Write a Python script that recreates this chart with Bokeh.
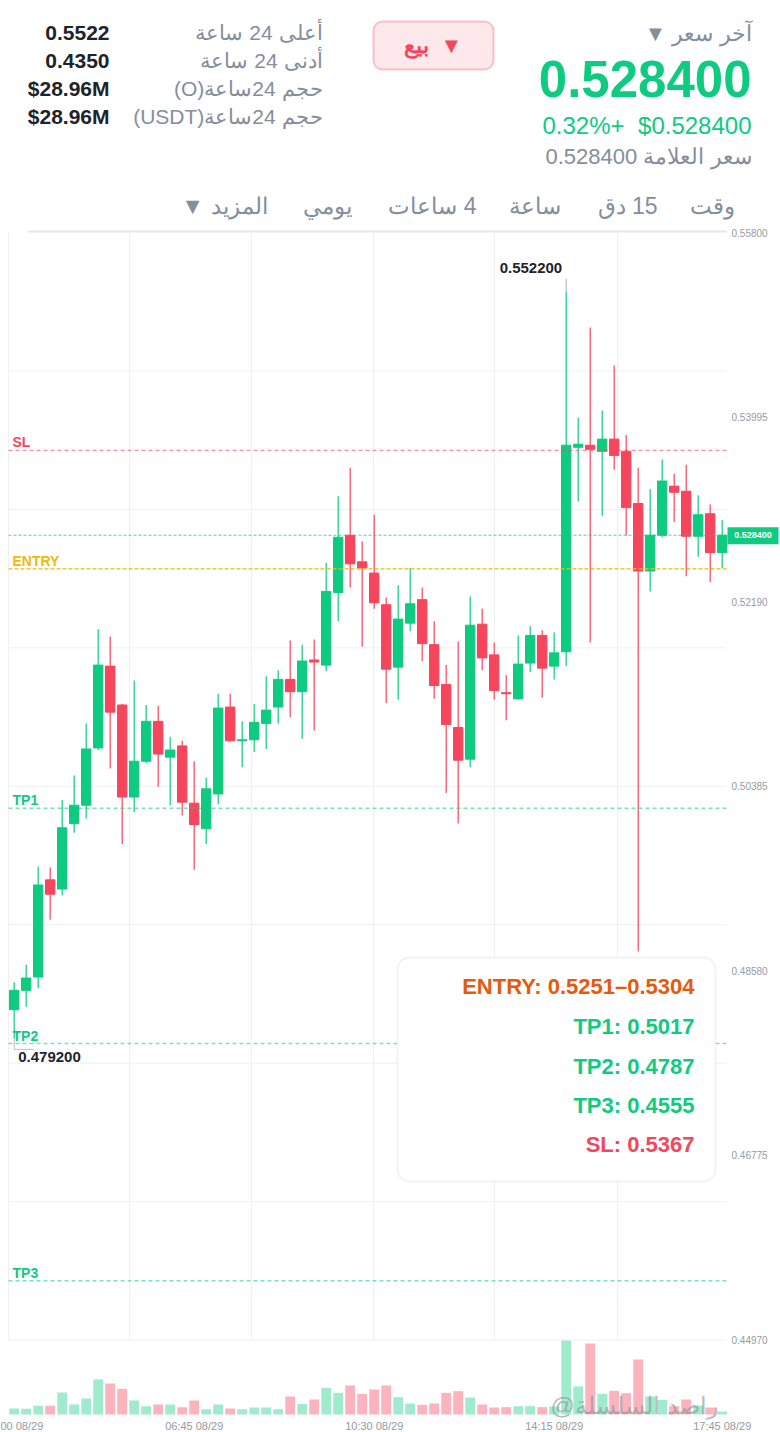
from bokeh.plotting import figure
from bokeh.models import Range1d, Label, BoxAnnotation, ColumnDataSource
from bokeh.core.properties import value
from bokeh.embed import file_html
from bokeh.resources import INLINE

# ---------------- data ----------------
OPEN = [0.4820, 0.4839, 0.4852, 0.4947, 0.4938, 0.5002, 0.5020, 0.5076, 0.5156, 0.5118,
        0.5028, 0.5063, 0.5102, 0.5067, 0.5078, 0.5022, 0.4997, 0.5031, 0.5116, 0.5083,
        0.5084, 0.5100, 0.5116, 0.5143, 0.5131, 0.5162, 0.5157, 0.5228, 0.5284, 0.5258,
        0.5247, 0.5216, 0.5155, 0.5198, 0.5221, 0.5177, 0.5138, 0.5096, 0.5065, 0.5197,
        0.5167, 0.5130, 0.5124, 0.5159, 0.5186, 0.5156, 0.5170, 0.5370, 0.5372, 0.5366,
        0.5378, 0.5366, 0.5315, 0.5249, 0.5284, 0.5332, 0.5327, 0.5283, 0.5305, 0.5267]
HIGH = [0.4847, 0.4864, 0.4960, 0.4959, 0.5025, 0.5049, 0.5100, 0.5192, 0.5185, 0.5119,
        0.5142, 0.5118, 0.5117, 0.5087, 0.5083, 0.5063, 0.5047, 0.5129, 0.5129, 0.5102,
        0.5119, 0.5146, 0.5152, 0.5181, 0.5177, 0.5182, 0.5257, 0.5322, 0.5350, 0.5278,
        0.5304, 0.5223, 0.5235, 0.5252, 0.5233, 0.5200, 0.5157, 0.5180, 0.5224, 0.5212,
        0.5179, 0.5147, 0.5186, 0.5195, 0.5191, 0.5189, 0.5522, 0.5399, 0.5487, 0.5406,
        0.5450, 0.5382, 0.5350, 0.5329, 0.5358, 0.5344, 0.5353, 0.5323, 0.5314, 0.5299]
LOW = [0.4792, 0.4823, 0.4841, 0.4908, 0.4932, 0.4993, 0.5007, 0.5074, 0.5056, 0.4982,
       0.5013, 0.5061, 0.5038, 0.5020, 0.5010, 0.4957, 0.4982, 0.5021, 0.5082, 0.5057,
       0.5072, 0.5075, 0.5100, 0.5106, 0.5085, 0.5093, 0.5151, 0.5200, 0.5233, 0.5175,
       0.5212, 0.5120, 0.5123, 0.5190, 0.5161, 0.5124, 0.5032, 0.5002, 0.5057, 0.5152,
       0.5123, 0.5103, 0.5123, 0.5150, 0.5125, 0.5143, 0.5156, 0.5317, 0.5179, 0.5303,
       0.5348, 0.5284, 0.4877, 0.5229, 0.5282, 0.5297, 0.5244, 0.5263, 0.5238, 0.5252]
CLOSE = [0.4839, 0.4851, 0.4942, 0.4933, 0.4998, 0.5020, 0.5075, 0.5157, 0.5111, 0.5028,
         0.5063, 0.5102, 0.5070, 0.5074, 0.5023, 0.5001, 0.5036, 0.5115, 0.5083, 0.5084,
         0.5101, 0.5113, 0.5143, 0.5131, 0.5161, 0.5160, 0.5229, 0.5282, 0.5256, 0.5252,
         0.5218, 0.5153, 0.5202, 0.5217, 0.5178, 0.5137, 0.5099, 0.5064, 0.5196, 0.5164,
         0.5132, 0.5129, 0.5158, 0.5186, 0.5154, 0.5169, 0.5372, 0.5373, 0.5368, 0.5378,
         0.5362, 0.5311, 0.5249, 0.5284, 0.5337, 0.5326, 0.5283, 0.5304, 0.5267, 0.5284]
VOLUME = [18, 17, 26, 26, 66, 30, 48, 105, 93, 77,
          42, 25, 30, 30, 22, 42, 16, 30, 18, 16,
          21, 21, 16, 54, 32, 45, 80, 65, 87, 62,
          75, 87, 52, 33, 29, 33, 65, 70, 51, 30,
          21, 22, 25, 25, 22, 24, 222, 84, 213, 62,
          71, 64, 165, 54, 44, 25, 45, 27, 21, 9]

TICK_IDX = [0, 15, 30, 45, 59]
TICK_LABELS = ["03:00 08/29", "06:45 08/29", "10:30 08/29", "14:15 08/29", "17:45 08/29"]
Y_TICKS = [0.55800, 0.53995, 0.52190, 0.50385, 0.48580, 0.46775, 0.44970]

LAST = 0.5284
CHANGE = "0.32%+"
ENTRY_LOW, ENTRY_HIGH = 0.5251, 0.5304
TP1, TP2, TP3 = 0.5017, 0.4787, 0.4555
SL = 0.5367

STAT_LABELS = ["أعلى 24 ساعة", "أدنى 24 ساعة", "حجم 24ساعة(O)", "حجم 24ساعة(USDT)"]
STAT_VALUES = ["0.5522", "0.4350", "$28.96M", "$28.96M"]
TABS = ["وقت", "15 دق", "ساعة", "4 ساعات", "يومي", "المزيد ▼"]
WATERMARK = "@راصد السلسلة"

# ---------------- style ----------------
FONT = "Liberation Sans"
GREEN = "#0ecb81"
RED = "#f6465d"
YELLOW = "#f0b90b"
GREEN_VOL = "#a0eacd"
RED_VOL = "#fbb4bd"
GRAY = "#848e9c"
DARK = "#1e2329"
AXIS_GRAY = "#959ba5"
GRID = "#eff0f1"

W, H = 780, 1430
PX_PER_UNIT = 10227.0          # screen px per price unit
Y_TOP = 0.558                  # price at the top edge of the chart pane (y = 232 px)
X0_PX, X_STEP_PX = 13.7, 12.0  # first candle position and candle spacing in px
VOL_BASE_PX, VOL_MAX_PX = 1414, 74


def dx(px):
    return (px - X0_PX) / X_STEP_PX


def dy(py):
    return Y_TOP - (py - 232) / PX_PER_UNIT


def rtl(s):
    return "\u202b" + s + "\u202c"


vpp = max(VOLUME) / VOL_MAX_PX
p = figure(width=W, height=H, x_range=Range1d(dx(0), dx(W)), y_range=Range1d(dy(H), dy(0)),
           x_axis_location=None, y_axis_location=None, toolbar_location=None,
           output_backend="svg", min_border=0)
p.xgrid.visible = False
p.ygrid.visible = False
p.outline_line_color = None
p.background_fill_color = "white"
p.border_fill_color = "white"
p.extra_x_ranges = {"px": Range1d(0, W)}
p.extra_y_ranges = {"px": Range1d(H, 0),
                    "vol": Range1d(-(H - VOL_BASE_PX) * vpp, VOL_BASE_PX * vpp)}


def ptext(x, y, txt, size, color, bold=False, align="right", baseline="middle",
          xr="px", yr="px", alpha=1.0):
    p.text(x=x, y=y, text=txt, x_range_name=xr, y_range_name=yr,
           text_font=value(FONT), text_font_size=f"{size}px", text_color=color,
           text_alpha=alpha, text_align=align, text_baseline=baseline,
           text_font_style="bold" if bold else "normal")


# ---------------- header ----------------
stat_mid = [32, 60, 88, 116]
ptext([322] * 4, stat_mid, [rtl(s) for s in STAT_LABELS], 21, GRAY)
ptext([109] * 4, stat_mid, STAT_VALUES, 21, DARK, bold=True)

p.add_layout(BoxAnnotation(left=373, right=493, top=21, bottom=69, x_range_name="px",
                           y_range_name="px", fill_color="#fde8eb", fill_alpha=1,
                           line_color=RED, line_width=2, border_radius=9, level="underlay"))
ptext([416], [45], ["بيع"], 22, RED, bold=True, align="center")
ptext([451], [45], ["▼"], 22, RED, align="center")

ptext([751], [33], [rtl("آخر سعر ▼")], 22, GRAY)
ptext([751], [78], [f"{LAST:.6f}"], 51, GREEN, bold=True)
ptext([624], [125], [CHANGE], 24, GREEN)
ptext([751], [125], [f"${LAST:.6f}"], 24, GREEN)
ptext([751], [156], [f"سعر العلامة {LAST:.6f}"], 22, GRAY)

tab_right = [734, 657, 560, 476, 351, 267]
ptext(tab_right, [205] * len(TABS), [rtl(t) for t in TABS], 23, GRAY)

# ---------------- chart pane grid ----------------
grid_x = [dx(8), dx(129), dx(251), dx(373), dx(494), dx(617)]
p.segment(x0=grid_x, y0=[Y_TICKS[-1]] * len(grid_x), x1=grid_x, y1=[Y_TOP] * len(grid_x),
          line_color=GRID, line_width=1)
grid_y = [Y_TOP - k * 0.0135375 for k in range(1, 9)]
p.segment(x0=[8] * len(grid_y), y0=grid_y, x1=[726] * len(grid_y), y1=grid_y,
          x_range_name="px", line_color=GRID, line_width=1)
p.segment(x0=[28], y0=[231], x1=[726], y1=[231], x_range_name="px", y_range_name="px",
          line_color="#e6e7e9", line_width=2)

# price axis labels (right) and time labels (bottom)
ptext([731] * len(Y_TICKS), Y_TICKS, [f"{t:.5f}" for t in Y_TICKS], 10, AXIS_GRAY,
      align="left", yr="default")
ptext(TICK_IDX, [1425] * len(TICK_IDX), TICK_LABELS, 11, AXIS_GRAY, align="center",
      xr="default")

# ---------------- candles & volume ----------------
idx = list(range(len(OPEN)))
up = [c >= o for o, c in zip(OPEN, CLOSE)]
src = ColumnDataSource(dict(
    x=idx, h=HIGH, l=LOW,
    top=[max(o, c) for o, c in zip(OPEN, CLOSE)],
    bot=[min(o, c) for o, c in zip(OPEN, CLOSE)],
    color=[GREEN if u else RED for u in up],
    vcolor=[GREEN_VOL if u else RED_VOL for u in up],
    vol=VOLUME,
))
p.vbar(x="x", width=0.82, top="vol", bottom=0, fill_color="vcolor", line_color=None,
       source=src, y_range_name="vol")
p.segment(x0="x", y0="h", x1="x", y1="l", line_color="color", line_width=1.2, source=src)
p.vbar(x="x", width=0.78, top="top", bottom="bot", fill_color="color", line_color="color",
       line_width=1, source=src)

# ---------------- level lines ----------------
levels = [
    (SL, RED, "4 3", 1.3, 0.6),
    (LAST, GREEN, "3 2", 1.0, 0.75),
    (ENTRY_LOW, YELLOW, "4 2", 1.3, 1.0),
    (TP1, GREEN, "4 3", 1.6, 0.55),
    (TP2, GREEN, "4 3", 1.6, 0.55),
    (TP3, GREEN, "4 3", 1.6, 0.55),
]
for loc, col, dash, w, a in levels:
    p.segment(x0=[8], y0=[loc], x1=[726], y1=[loc], x_range_name="px", line_color=col,
              line_dash=dash, line_width=w, line_alpha=a)

for name, loc, col in [("SL", SL, RED), ("ENTRY", ENTRY_LOW, YELLOW), ("TP1", TP1, GREEN),
                       ("TP2", TP2, GREEN), ("TP3", TP3, GREEN)]:
    p.text(x=[12], y=[loc], text=[name], x_range_name="px", y_offset=0,
           text_font=value(FONT), text_font_size="14px", text_font_style="bold",
           text_color=col, text_align="left", text_baseline="bottom")

# ---------------- high / low markers ----------------
hi_i = max(idx, key=lambda i: HIGH[i])
lo_i = min(idx, key=lambda i: LOW[i])
upx = 1.0 / PX_PER_UNIT
p.line(x=[hi_i, hi_i], y=[HIGH[hi_i], HIGH[hi_i] + 13 * upx], line_color="#a8adb5", line_width=1)
p.line(x=[lo_i, lo_i, lo_i + 20 / X_STEP_PX],
       y=[LOW[lo_i], LOW[lo_i] - 11 * upx, LOW[lo_i] - 11 * upx], line_color="#b8bcc2", line_width=1)
p.text(x=[hi_i], y=[HIGH[hi_i]], text=[f"{HIGH[hi_i]:.6f}"], x_offset=-4, y_offset=-19,
       text_font=value(FONT), text_font_size="15px", text_font_style="bold", text_color=DARK,
       text_align="right", text_baseline="bottom")
p.text(x=[lo_i], y=[LOW[lo_i]], text=[f"{LOW[lo_i]:.6f}"], x_offset=4, y_offset=14,
       text_font=value(FONT), text_font_size="15px", text_font_style="bold", text_color=DARK,
       text_align="left", text_baseline="top")

# ---------------- last price tag ----------------
p.quad(left=[727], right=[778], top=[LAST + 8 * upx], bottom=[LAST - 9 * upx],
       x_range_name="px", fill_color=GREEN, line_color=None)
p.text(x=[752.5], y=[LAST], text=[f"{LAST:.6f}"], x_range_name="px", text_font=value(FONT),
       text_font_size="9px", text_font_style="bold", text_color="white",
       text_align="center", text_baseline="middle")

# ---------------- watermark ----------------
ptext([550], [1405], [WATERMARK], 24, "#8f959e", align="left", alpha=0.65)

# ---------------- signal box ----------------
p.add_layout(BoxAnnotation(left=397, right=715, top=957, bottom=1181, x_range_name="px",
                           y_range_name="px", fill_color="white", fill_alpha=0.9,
                           line_color="#d3d6da", line_width=2, border_radius=12))
box_lines = [
    (f"ENTRY: {ENTRY_LOW:.4f}\u2013{ENTRY_HIGH:.4f}", "#e8590c", 986),
    (f"TP1: {TP1:.4f}", GREEN, 1026),
    (f"TP2: {TP2:.4f}", GREEN, 1066),
    (f"TP3: {TP3:.4f}", GREEN, 1105),
    (f"SL: {SL:.4f}", RED, 1144),
]
for txt, col, py in box_lines:
    p.add_layout(Label(x=694, y=py, x_range_name="px", y_range_name="px", text=txt,
                       text_color=col, text_font=FONT, text_font_size="22px",
                       text_font_style="bold", text_align="right", text_baseline="middle"))

open("out.html", "w").write(file_html(p, INLINE))
